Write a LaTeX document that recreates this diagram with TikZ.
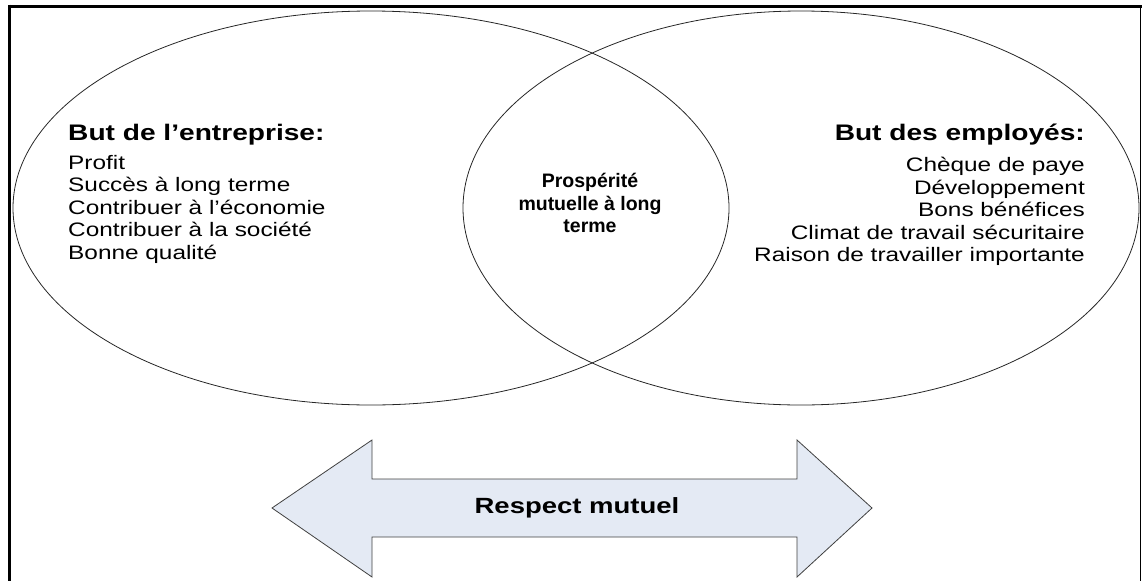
\documentclass[tikz,border=0pt]{standalone}
\usepackage{fontspec}
\setmainfont{Liberation Sans}
\newfontfamily\widesans[FakeStretch=1.25]{Liberation Sans}
\usetikzlibrary{shapes.geometric}

\definecolor{arrowfill}{HTML}{E4EAF4}
\definecolor{arrowline}{HTML}{404040}

\begin{document}
\begin{tikzpicture}[x=1pt,y=-1pt,
  goal/.style={draw=black!85, line width=0.8pt, ellipse, inner sep=0pt},
  headline/.style={font=\widesans\fontsize{22.5}{27}\selectfont\bfseries, inner sep=0pt},
  itemline/.style={font=\widesans\fontsize{19.5}{23}\selectfont, inner sep=0pt},
  midline/.style={font=\fontsize{19.5}{23}\selectfont\bfseries, inner sep=0pt, anchor=base},
  frameline/.style={draw=black}
]
\useasboundingbox (0,0) rectangle (1142,581);

% frame on three sides
\draw[frameline, line width=3pt] (8,6) -- (1142,6);
\draw[frameline, line width=3pt] (9.5,4.5) -- (9.5,581);
\draw[frameline, line width=1.5pt] (1140.5,6) -- (1140.5,581);

% the two overlapping goal ellipses
\node[goal, minimum width=716pt, minimum height=394pt] (ent) at (371,208) {};
\node[goal, minimum width=676pt, minimum height=394pt] (emp) at (801,208) {};

% company goals
\node[headline, anchor=base west] (entT) at (68,140) {But de l’entreprise:};
\node[itemline, anchor=base west] (ent1) at (68,169) {Profit};
\node[itemline, anchor=base west] (ent2) at (68,191) {Succès à long terme};
\node[itemline, anchor=base west] (ent3) at (68,214) {Contribuer à l’économie};
\node[itemline, anchor=base west] (ent4) at (68,236) {Contribuer à la société};
\node[itemline, anchor=base west] (ent5) at (68,259) {Bonne qualité};

% employee goals
\node[headline, anchor=base east] (empT) at (1085,140) {But des employés:};
\node[itemline, anchor=base east] (emp1) at (1085,171) {Chèque de paye};
\node[itemline, anchor=base east] (emp2) at (1085,194) {Développement};
\node[itemline, anchor=base east] (emp3) at (1085,216) {Bons bénéfices};
\node[itemline, anchor=base east] (emp4) at (1085,239) {Climat de travail sécuritaire};
\node[itemline, anchor=base east] (emp5) at (1085,261) {Raison de travailler importante};

% shared goal, in the overlap
\node[midline] (mid1) at (590,187) {Prospérité};
\node[midline] (mid2) at (590,210) {mutuelle à long};
\node[midline] (mid3) at (590,232) {terme};

% double arrow
\draw[fill=arrowfill, draw=arrowline, line width=0.8pt, line join=miter]
  (272,508) -- (372,440) -- (372,479) -- (797,479) -- (797,440) -- (872,508)
  -- (797,577) -- (797,537) -- (372,537) -- (372,577) -- cycle;
\node[font=\widesans\fontsize{22}{26}\selectfont\bfseries, inner sep=0pt] (resp) at (577,508) {Respect mutuel};
\end{tikzpicture}
\end{document}
